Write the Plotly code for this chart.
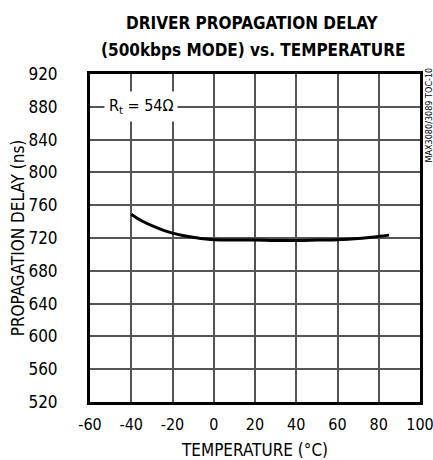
import plotly.graph_objects as go

temps = [-40, -35, -30, -25, -20, -15, -10, -5, 0, 10, 20, 30, 40, 50, 60, 70, 80, 85]
delay = [749, 741, 735, 730, 726, 723, 721, 719, 718, 717.5, 717.5, 717, 717, 717.5, 718, 719.5, 722, 723.5]

x_ticks = [-60, -40, -20, 0, 20, 40, 60, 80, 100]
y_ticks = [520, 560, 600, 640, 680, 720, 760, 800, 840, 880, 920]

FONT = "DejaVu Sans Condensed, Liberation Sans Narrow, sans-serif"

W, H = 433, 460
L, R, T, B = 90, 13, 74, 58
PW, PH = W - L - R, H - T - B


def px(xp):
    return (xp - L) / PW


def py(yp):
    return (H - B - yp) / PH


fig = go.Figure()
fig.add_trace(go.Scatter(x=temps, y=delay, mode="lines",
                         line=dict(color="black", width=3, shape="spline"),
                         showlegend=False, hoverinfo="skip"))

fig.update_layout(
    width=W, height=H,
    margin=dict(l=L, r=R, t=T, b=B),
    paper_bgcolor="white", plot_bgcolor="white",
    font=dict(family=FONT, size=16, color="black"),
    xaxis=dict(range=[-60, 100], tickvals=x_ticks, ticktext=[str(v) for v in x_ticks],
               showgrid=True, gridcolor="#555555", gridwidth=1.5,
               showline=True, linecolor="black", linewidth=3, mirror=True,
               zeroline=False, ticks="", ticklabelstandoff=6, automargin=False,
               ticklabeloverflow="allow",
               tickfont=dict(size=16),
               title=dict(text="TEMPERATURE (°C)", standoff=12, font=dict(size=17))),
    yaxis=dict(range=[520, 920], tickvals=y_ticks, ticktext=[str(v) for v in y_ticks],
               showgrid=True, gridcolor="#555555", gridwidth=1.5,
               showline=True, linecolor="black", linewidth=3, mirror=True,
               zeroline=False, ticks="", ticklabelstandoff=26, automargin=False,
               ticklabeloverflow="allow",
               tickfont=dict(size=17),
               title=dict(text="PROPAGATION DELAY (ns)", standoff=0, font=dict(size=17))),
)

fig.add_annotation(x=px(252), y=py(23), xref="paper", yref="paper",
                   text="<b>DRIVER PROPAGATION DELAY</b>", showarrow=False,
                   xanchor="center", yanchor="middle",
                   font=dict(family=FONT, size=17, color="black"))
fig.add_annotation(x=px(253), y=py(50), xref="paper", yref="paper",
                   text="<b>(500kbps MODE) vs. TEMPERATURE</b>", showarrow=False,
                   xanchor="center", yanchor="middle",
                   font=dict(family=FONT, size=17, color="black"))

fig.add_annotation(x=-35.5, y=880, xref="x", yref="y",
                   text="R<sub>t</sub> = 54Ω", showarrow=False,
                   bgcolor="white", borderpad=4,
                   font=dict(family=FONT, size=16, color="black"))

fig.add_annotation(x=px(428), y=py(66), xref="paper", yref="paper",
                   text="MAX3080/3089 TOC-10", showarrow=False, textangle=-90,
                   xanchor="center", yanchor="top",
                   font=dict(family=FONT, size=9, color="black"))

fig.write_html("out.html", config={"displayModeBar": False},
               post_script="document.body.style.margin='0';")
